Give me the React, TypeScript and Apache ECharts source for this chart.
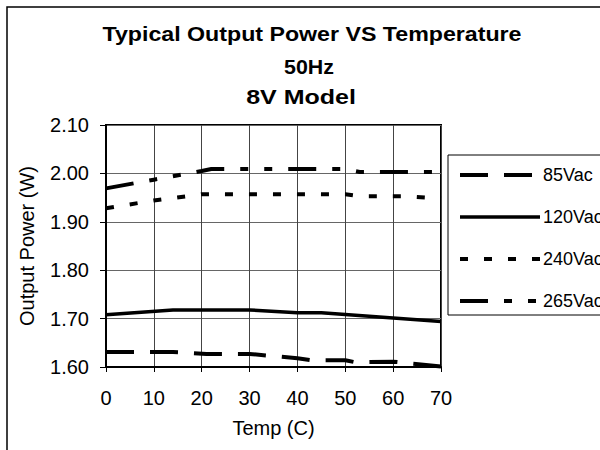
import React, { useEffect, useRef } from "react";
import * as echarts from "echarts";

const FONT = "'Liberation Sans', Arial, sans-serif";

const titleLines = ["Typical Output Power VS Temperature", "50Hz", "8V Model"];
const xAxisName = "Temp (C)";
const yAxisName = "Output Power (W)";

const seriesNames = ["85Vac", "120Vac", "240Vac", "265Vac"];

const temps85 = [0, 14, 21, 30, 40, 43, 50, 52, 60, 70];
const power85 = [1.631, 1.631, 1.627, 1.627, 1.618, 1.614, 1.614, 1.61, 1.611, 1.601];

const temps120 = [0, 14, 30, 40, 45, 70];
const power120 = [1.708, 1.718, 1.718, 1.712, 1.712, 1.694];

const temps240 = [0, 10, 20, 50, 53, 62, 70];
const power240 = [1.928, 1.944, 1.957, 1.957, 1.953, 1.953, 1.948];

const temps265 = [0, 10, 20, 22, 50, 53, 70];
const power265 = [1.969, 1.987, 2.005, 2.009, 2.009, 2.003, 2.003];

const pair = (xs: number[], ys: number[]) => xs.map((x, i) => [x, ys[i]]);

export default function App() {
  const ref = useRef<HTMLDivElement>(null);

  useEffect(() => {
    if (!ref.current) return;
    const chart = echarts.init(ref.current, undefined, { renderer: "svg" });

    const styles = [
      { width: 4, type: [28, 16] as any },
      { width: 3.5, type: "solid" as any },
      { width: 4, type: [8, 16] as any },
      { width: 4, type: [28, 16, 8, 16, 8, 16] as any },
    ];
    const datas = [
      pair(temps85, power85),
      pair(temps120, power120),
      pair(temps240, power240),
      pair(temps265, power265),
    ];
    const titleX = [312, 309, 301];
    const titleY = [34.5, 67, 97];
    const titleScale = [1.16, 1.07, 1.25];

    chart.setOption({
      animation: false,
      backgroundColor: "#fff",
      textStyle: { fontFamily: FONT },
      graphic: [
        {
          type: "rect",
          shape: { x: 7, y: 7, width: 800, height: 800 },
          style: { fill: "none", stroke: "#000", lineWidth: 1.5 },
          silent: true,
        },
        ...titleLines.map((t, i) => ({
          type: "text",
          x: titleX[i],
          y: titleY[i],
          scaleX: titleScale[i],
          style: {
            text: t,
            x: 0,
            y: 0,
            textAlign: "center",
            textVerticalAlign: "middle",
            fontFamily: FONT,
            fontSize: 20,
            fontWeight: "bold",
            fill: "#000",
          },
        })),
      ],
      grid: {
        left: 106,
        top: 125,
        right: 159,
        bottom: 83,
        show: true,
        borderColor: "#000",
        borderWidth: 2,
        backgroundColor: "transparent",
      },
      legend: {
        orient: "vertical",
        left: 448,
        top: 155,
        itemWidth: 80,
        itemHeight: 20,
        itemGap: 24,
        padding: [11, 80, 5, 10],
        borderColor: "#000",
        borderWidth: 1,
        data: seriesNames,
        itemStyle: { opacity: 0 },
        lineStyle: { width: "inherit" as any },
        textStyle: { fontFamily: FONT, fontSize: 18, color: "#000", padding: [0, 0, 0, -2] },
      },
      xAxis: {
        type: "value",
        min: 0,
        max: 70,
        interval: 10,
        name: xAxisName,
        nameLocation: "middle",
        nameGap: 51,
        nameTextStyle: { fontFamily: FONT, fontSize: 20, color: "#000" },
        axisLine: { show: true, lineStyle: { color: "#000", width: 2 } },
        axisTick: { show: true, length: 5, lineStyle: { color: "#000", width: 1 } },
        axisLabel: { fontFamily: FONT, fontSize: 20, color: "#000", margin: 21 },
        splitLine: { show: true, lineStyle: { color: "#444", width: 1 } },
      },
      yAxis: {
        type: "value",
        min: 1.6,
        max: 2.1,
        interval: 0.1,
        name: yAxisName,
        nameLocation: "middle",
        nameGap: 69,
        nameTextStyle: { fontFamily: FONT, fontSize: 20, color: "#000" },
        axisLine: { show: true, lineStyle: { color: "#000", width: 2 } },
        axisTick: { show: true, length: 6, lineStyle: { color: "#000", width: 1 } },
        axisLabel: {
          fontFamily: FONT,
          fontSize: 20,
          color: "#000",
          margin: 17,
          formatter: (v: number) => v.toFixed(2),
        },
        splitLine: { show: true, lineStyle: { color: "#666", width: 1 } },
      },
      series: seriesNames.map((name, i) => ({
        name,
        type: "line",
        data: datas[i],
        symbol: "none",
        showSymbol: false,
        color: "#000",
        lineStyle: { color: "#000", width: styles[i].width, type: styles[i].type },
      })),
    });

    return () => chart.dispose();
  }, []);

  return (
    <div
      ref={ref}
      style={{ position: "fixed", left: 0, top: 0, width: 600, height: 450 }}
    />
  );
}
